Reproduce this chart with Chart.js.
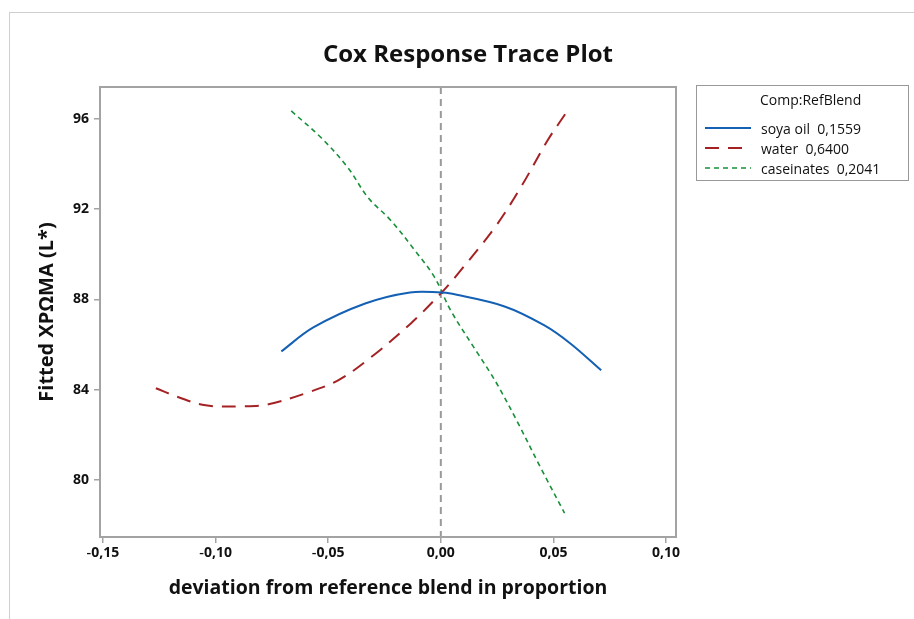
<!DOCTYPE html>
<html>
<head>
<meta charset="utf-8">
<script src="https://cdn.jsdelivr.net/npm/chart.js@4"></script>
<style>
  body { margin: 0; background: #fff; }
  #wrap { position: relative; width: 914px; height: 619px; overflow: hidden; font-family: "Open Sans", sans-serif; }
  #frame { position: absolute; left: 9px; top: 12px; right: -5px; bottom: -5px; border-top: 1px solid #cfcfcf; border-left: 1px solid #cfcfcf; }
  #chart { position: absolute; left: 0; top: 0; }
  #title { position: absolute; left: 0; width: 936px; top: 36px; text-align: center; font-size: 24px; font-weight: bold; color: #111; }
  #legend { position: absolute; left: 696px; top: 85px; width: 213px; height: 96px; border: 1px solid #999; box-sizing: border-box; font-size: 14px; color: #111; }
  #legend .head { position: absolute; left: 63px; top: 4px; }
  #legend .row { position: absolute; left: 8px; height: 18px; display: flex; align-items: center; }
  #legend svg { margin-right: 10px; }
</style>
</head>
<body>
<div id="wrap">
  <div id="frame"></div>
  <canvas id="chart" width="914" height="619"></canvas>
  <div id="title">Cox Response Trace Plot</div>
  <div id="legend"><div class="head">Comp:RefBlend</div></div>
</div>
<script>
// values
const seriesNames = ['soya oil', 'water', 'caseinates'];
const refValues = ['0,1559', '0,6400', '0,2041'];

const soyaX = [-0.0708, -0.0566, -0.0336, -0.0137, 0, 0.0044, 0.0283, 0.046, 0.0575, 0.0712];
const soyaY = [85.70, 86.76, 87.82, 88.31, 88.31, 88.26, 87.69, 86.85, 86.05, 84.86];

const waterX = [-0.1265, -0.1164, -0.1044, -0.0867, -0.0765, -0.0602, -0.0456, -0.031, -0.0133, 0, 0.0062, 0.0239, 0.0354, 0.0473, 0.0553];
const waterY = [84.07, 83.67, 83.31, 83.27, 83.36, 83.84, 84.42, 85.44, 86.94, 88.27, 88.97, 91.18, 92.95, 95.03, 96.22];

const caseX = [-0.0664, -0.0531, -0.0412, -0.0323, -0.0221, -0.0115, -0.0027, 0.0044, 0.0164, 0.0221, 0.026, 0.0341, 0.0442, 0.0549];
const caseY = [96.35, 95.16, 93.83, 92.51, 91.49, 90.17, 88.97, 87.51, 85.61, 84.73, 84.07, 82.56, 80.57, 78.54];

const xTicks = [-0.15, -0.10, -0.05, 0.00, 0.05, 0.10];
const yTicks = [80, 84, 88, 92, 96];

const colors = ['#1460b4', '#a52224', '#17903a'];
const dashes = [[], [14, 9], [5, 4]];
const widths = [2, 2, 1.6];

const pts = (xs, ys) => xs.map((x, i) => ({ x: x, y: ys[i] }));
const seriesData = [pts(soyaX, soyaY), pts(waterX, waterY), pts(caseX, caseY)];

// legend box
const leg = document.getElementById('legend');
seriesNames.forEach((name, i) => {
  const row = document.createElement('div');
  row.className = 'row';
  row.style.top = (33 + i * 20) + 'px';
  row.innerHTML = `<svg width="46" height="6"><line x1="0" y1="3" x2="46" y2="3" stroke="${colors[i]}" stroke-width="${widths[i]}" stroke-dasharray="${dashes[i].join(' ')}"/></svg><span>${name}&nbsp; ${refValues[i]}</span>`;
  leg.appendChild(row);
});

const gray = '#a3a3a3';
const fmt = v => v.toFixed(2).replace('.', ',').replace('-', '\u2011');

const framePlugin = {
  id: 'frame',
  beforeDatasetsDraw(chart) {
    const { ctx, chartArea: a, scales } = chart;
    const x0 = scales.x.getPixelForValue(0);
    ctx.save();
    ctx.strokeStyle = '#9a9a9a';
    ctx.lineWidth = 2;
    ctx.setLineDash([7, 5]);
    ctx.beginPath();
    ctx.moveTo(x0, a.top);
    ctx.lineTo(x0, a.bottom);
    ctx.stroke();
    ctx.restore();
  },
  afterDraw(chart) {
    const { ctx, chartArea: a } = chart;
    ctx.save();
    ctx.strokeStyle = gray;
    ctx.lineWidth = 2;
    ctx.strokeRect(a.left, a.top, a.right - a.left, a.bottom - a.top);
    ctx.restore();
  }
};

new Chart(document.getElementById('chart'), {
  type: 'scatter',
  data: {
    datasets: seriesData.map((d, i) => ({
      label: seriesNames[i],
      data: d,
      showLine: true,
      borderColor: colors[i],
      borderWidth: widths[i],
      borderDash: dashes[i],
      pointRadius: 0,
      tension: 0.35,
      fill: false
    }))
  },
  options: {
    responsive: false,
    animation: false,
    layout: { padding: { top: 87, right: 238, left: 0, bottom: 0 } },
    plugins: { legend: { display: false }, title: { display: false }, tooltip: { enabled: false } },
    scales: {
      x: {
        type: 'linear',
        min: -0.1513,
        max: 0.1044,
        afterBuildTicks: s => { s.ticks = xTicks.map(v => ({ value: v })); },
        afterFit: s => { s.height = 82; },
        border: { color: gray, width: 2 },
        grid: { drawOnChartArea: false, color: gray, tickLength: 6, lineWidth: 1.5 },
        ticks: { padding: 2, color: '#111', font: { family: 'Open Sans', size: 14, weight: 'bold' }, callback: v => fmt(v), maxRotation: 0 },
        title: { display: true, text: 'deviation from reference blend in proportion', color: '#111', font: { family: 'Open Sans', size: 19.5, weight: 'bold' }, padding: { bottom: 19 } }
      },
      y: {
        min: 77.48,
        max: 97.41,
        afterBuildTicks: s => { s.ticks = yTicks.map(v => ({ value: v })); },
        afterFit: s => { s.width = 100; },
        border: { color: gray, width: 2 },
        grid: { drawOnChartArea: false, color: gray, tickLength: 6, lineWidth: 1.5 },
        ticks: { padding: 5, color: '#111', font: { family: 'Open Sans', size: 14, weight: 'bold' }, callback: v => String(v) },
        title: { display: true, text: 'Fitted XPΩMA (L*)', color: '#111', font: { family: 'Open Sans', size: 20, weight: 'bold' }, padding: { top: 35 } }
      }
    }
  },
  plugins: [framePlugin]
});
</script>
</body>
</html>
